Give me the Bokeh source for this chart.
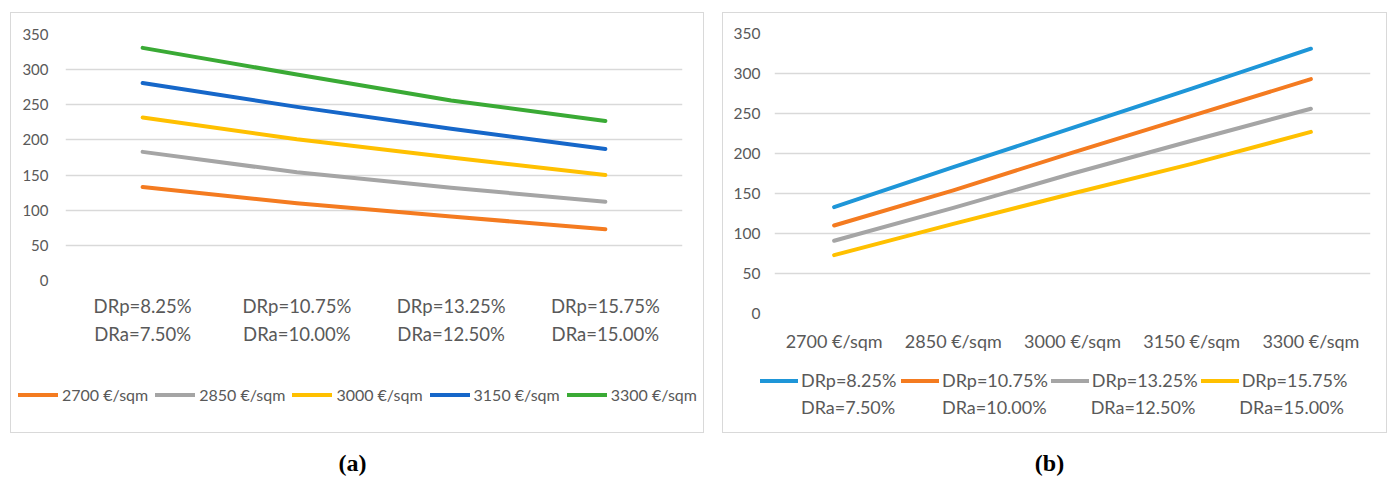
from bokeh.plotting import figure
from bokeh.models import FactorRange, Range1d, FixedTicker, Legend, LegendItem, Label, Spacer
from bokeh.layouts import column, row
from bokeh.embed import file_html
from bokeh.resources import INLINE

# ---------------- data ----------------
prices = ["2700 €/sqm", "2850 €/sqm", "3000 €/sqm", "3150 €/sqm", "3300 €/sqm"]
drp_labels = ["DRp=8.25%", "DRp=10.75%", "DRp=13.25%", "DRp=15.75%"]
dra_labels = ["DRa=7.50%", "DRa=10.00%", "DRa=12.50%", "DRa=15.00%"]

# value for each price across the four discount-rate scenarios
v2700 = [133, 110, 91, 73]
v2850 = [183, 154, 132, 112]
v3000 = [232, 201, 175, 150]
v3150 = [281, 247, 216, 187]
v3300 = [331, 293, 256, 227]
values_by_price = [v2700, v2850, v3000, v3150, v3300]

y_ticks = [0, 50, 100, 150, 200, 250, 300, 350]

colors_a = ["#F47B20", "#A5A5A5", "#FFC000", "#1667C9", "#3AAA35"]
colors_b = ["#1E96D8", "#F47B20", "#A5A5A5", "#FFC000"]

FONT = "Lato"
TXT = "#595959"
GRID = "#D9D9D9"
BORDER = {"border": "1px solid #D9D9D9"}


def base_style(p, y_standoff, font_y, font_x):
    p.outline_line_color = None
    p.background_fill_color = "white"
    p.border_fill_color = "white"
    p.xgrid.grid_line_color = None
    p.ygrid.grid_line_color = GRID
    p.ygrid.grid_line_width = 1.3
    p.yaxis.ticker = FixedTicker(ticks=y_ticks)
    for ax in p.axis:
        ax.axis_line_color = None
        ax.major_tick_line_color = None
        ax.minor_tick_line_color = None
        ax.major_tick_in = 0
        ax.major_tick_out = 0
        ax.major_label_text_color = TXT
        ax.major_label_text_font = FONT
    p.yaxis.major_label_text_font_size = font_y
    p.yaxis.major_label_standoff = y_standoff
    p.xaxis.major_label_text_font_size = font_x
    p.frame_align = False


def legend_fig(width, height, x_factors):
    f = figure(width=width, height=height, x_range=FactorRange(*x_factors),
               y_range=Range1d(10000, 10001), x_axis_location=None, y_axis_location=None,
               output_backend="svg", toolbar_location=None, min_border=0)
    f.outline_line_color = None
    f.grid.visible = False
    f.frame_align = False
    return f


# ---------------- panel (a) ----------------
cats_a = [f"{a}\n{b}" for a, b in zip(drp_labels, dra_labels)]
pA = figure(width=692, height=345, x_range=FactorRange(*cats_a), y_range=Range1d(0, 350),
            output_backend="svg", toolbar_location=None,
            min_border_left=54, min_border_right=21, min_border_top=21, min_border_bottom=78)
base_style(pA, 17, "15px", "18.5px")
pA.xaxis.major_label_standoff = 14
pA.xaxis.major_label_text_line_height = 1.3

lgA = legend_fig(692, 74, cats_a)
items_a = []
for price, vals, col in zip(prices, values_by_price, colors_a):
    pA.line(cats_a, vals, line_color=col, line_width=4, line_cap="round", line_join="round")
    key = lgA.line(cats_a, vals, line_color=col, line_width=4, line_cap="round")
    items_a.append(LegendItem(label=price, renderers=[key]))

lgA.add_layout(Legend(items=items_a, orientation="horizontal", location=(7, 28),
                      glyph_width=40, glyph_height=19, label_standoff=4, label_width=86, spacing=7,
                      padding=0, margin=0, border_line_color=None, background_fill_alpha=0,
                      label_text_font=FONT, label_text_font_size="16px", label_text_color=TXT))

panelA = column(pA, lgA, styles=BORDER)

# ---------------- panel (b) ----------------
pB = figure(width=663, height=350, x_range=FactorRange(*prices), y_range=Range1d(0, 350),
            output_backend="svg", toolbar_location=None,
            min_border_left=51, min_border_right=16, min_border_top=20, min_border_bottom=50)
base_style(pB, 14, "15.5px", "18px")
pB.xaxis.major_label_standoff = 16

lgB = legend_fig(663, 69, prices)
items_b1, items_b2 = [], []
for j, col in enumerate(colors_b):
    series = [vals[j] for vals in values_by_price]
    pB.line(prices, series, line_color=col, line_width=4, line_cap="round", line_join="round")
    key = lgB.line(prices, series, line_color=col, line_width=4, line_cap="round")
    ghost = lgB.line(prices, series, line_color=col, line_alpha=0, line_width=4)
    items_b1.append(LegendItem(label=drp_labels[j], renderers=[key]))
    items_b2.append(LegendItem(label=dra_labels[j], renderers=[ghost]))

leg_common = dict(orientation="horizontal", glyph_width=38, glyph_height=21, label_standoff=3,
                  label_width=97, spacing=3, padding=0, margin=0, border_line_color=None,
                  background_fill_alpha=0, label_text_font=FONT, label_text_font_size="18px",
                  label_text_color=TXT)
lgB.add_layout(Legend(items=items_b1, location=(37, 41), **leg_common))
lgB.add_layout(Legend(items=items_b2, location=(37, 14), **leg_common))

panelB = column(pB, lgB, styles=BORDER)

# ---------------- captions ----------------
cap = figure(width=1392, height=44, x_range=Range1d(0, 1392), y_range=Range1d(0, 44),
             x_axis_type=None, y_axis_type=None, output_backend="svg", toolbar_location=None,
             min_border=0)
cap.outline_line_color = None
cap.xgrid.grid_line_color = None
cap.ygrid.grid_line_color = None
cap.frame_align = False
for txt, xc in [("(a)", 352), ("(b)", 1049)]:
    cap.add_layout(Label(x=xc, y=15, text=txt, text_align="center", text_baseline="middle",
                         text_font="Liberation Serif", text_font_style="bold",
                         text_font_size="24px", text_color="black"))

layout = column(Spacer(height=12),
                row(Spacer(width=10), panelA, Spacer(width=18), panelB),
                cap)

open("out.html", "w").write(file_html(layout, INLINE))
